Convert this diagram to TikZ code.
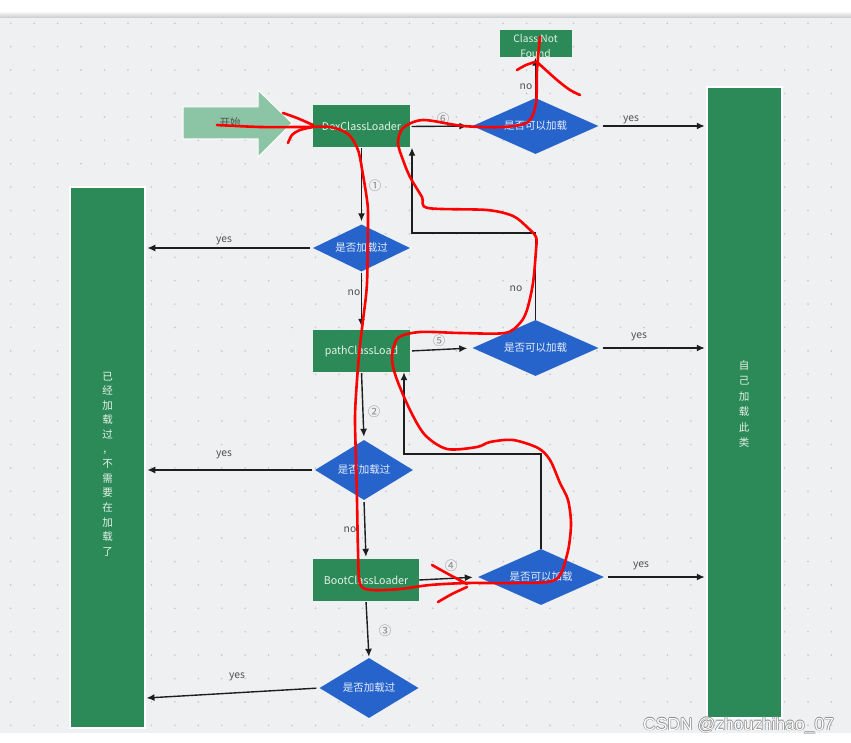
\documentclass[tikz,border=0pt]{standalone}
\usepackage{fontspec}
\setmainfont{Noto Sans CJK SC}
\newfontfamily\wmfont{Liberation Sans}
\usetikzlibrary{arrows.meta,shapes.geometric,calc}
\definecolor{bggrey}{HTML}{EEF0F2}
\definecolor{dotc}{HTML}{C4C7CB}
\definecolor{boxgreen}{HTML}{2C8A58}
\definecolor{boxtext}{HTML}{E4F1E8}
\definecolor{diablue}{HTML}{2664CB}
\definecolor{diatext}{HTML}{E6EDFA}
\definecolor{startgreen}{HTML}{8CC5A6}
\definecolor{arrowc}{HTML}{1E1E1E}
\definecolor{lblc}{HTML}{505050}
\definecolor{numc}{HTML}{8A8A8A}
\definecolor{wmgrey}{HTML}{8C8C8C}
\tikzset{
  box/.style={fill=boxgreen, text=boxtext, inner sep=0pt, font=\fontsize{10.7}{12}\selectfont},
  dia/.style={diamond, aspect=2.2, fill=diablue, text=diatext, inner sep=0pt, font=\fontsize{10.5}{12}\selectfont},
  bar/.style={fill=boxgreen, draw=white, line width=1.5pt, inner sep=0pt},
  bartext/.style={text=boxtext, align=center, inner sep=0pt},
  arr/.style={draw=arrowc, line width=1.4pt, -{Latex[length=8pt,width=7pt]}},
  lbl/.style={text=lblc, font=\fontsize{10.3}{12}\selectfont, inner sep=0pt},
  num/.style={text=numc, font=\fontsize{12.5}{14}\selectfont, inner sep=0pt},
  redline/.style={draw=red, line width=2.6pt, line cap=round, line join=round},
  wm/.style={font=\wmfont\fontsize{17.5}{20}\selectfont, inner sep=0pt, anchor=base west}
}
\begin{document}
\begin{tikzpicture}[x=1pt,y=-1pt]
\useasboundingbox (0,0) rectangle (851,743);
% background
\fill[white] (0,0) rectangle (851,743);
\fill[bggrey] (0,17) rectangle (851,733);
\shade[top color=white, bottom color=bggrey!85!black] (0,11) rectangle (851,17.5);
\foreach \i in {0,...,35}{
  \foreach \j in {0,...,30}{
    \fill[dotc] (10.7+23.45*\i, 23.3+23.4*\j) circle (0.9pt);
  }
}
% start arrow
\filldraw[fill=startgreen, draw=white, line width=1pt]
  (183,107) -- (258,107) -- (258,90) -- (292,123) -- (258,157) -- (258,139) -- (183,139) -- cycle;
\node[text=lblc, font=\fontsize{10.5}{12}\selectfont, inner sep=0pt] (start) at (230,123) {开始};
% bars
\node[bar, minimum width=75pt, minimum height=541pt] (lbar) at (107.5,457.5) {};
\node[bartext, font=\fontsize{10.5}{14.6}\selectfont] (lbartext) at (107.5,464)
  {已\\经\\加\\载\\过\\，\\不\\需\\要\\在\\加\\载\\了};
\node[bar, minimum width=75pt, minimum height=631pt] (rbar) at (744.5,402.5) {};
\node[bartext, font=\fontsize{10.5}{15.4}\selectfont] (rbartext) at (744,404)
  {自\\己\\加\\载\\此\\类};
% boxes
\node[box, minimum width=97pt, minimum height=42pt] (dex) at (361.5,126.5) {DexClassLoader};
\node[box, minimum width=72pt, minimum height=27pt] (cnf) at (535.5,44) {};
\node[bartext, font=\fontsize{10.2}{15}\selectfont] (cnftext) at (535.5,46) {Class Not\\Found};
\node[box, minimum width=97pt, minimum height=42pt] (path) at (361.5,351) {pathClassLoad};
\node[box, minimum width=106pt, minimum height=42pt] (boot) at (366,580) {BootClassLoader};
% diamonds
\node[dia, minimum width=126pt, minimum height=56pt] (d1) at (535.5,126) {是否可以加载};
\node[dia, minimum width=97pt, minimum height=47pt] (d2) at (361.5,248) {是否加载过};
\node[dia, minimum width=126pt, minimum height=56pt] (d3) at (535.5,348) {是否可以加载};
\node[dia, minimum width=98pt, minimum height=60pt] (d4) at (364,470) {是否加载过};
\node[dia, minimum width=126pt, minimum height=56pt] (d5) at (541,577) {是否可以加载};
\node[dia, minimum width=99pt, minimum height=60pt] (d6) at (369,688) {是否加载过};
% helper coordinates
\coordinate (loop1) at (412,233);
\coordinate (loop2) at (404,454);
\coordinate (l6) at (146.5,698);
% connectors
\draw[arr, shorten <=1.5pt, shorten >=5pt] (dex.east) -- (d1.west);
\draw[arr] (d1.north) -- (cnf.south);
\draw[arr, shorten <=4pt, shorten >=1.5pt] (d1.east) -- (rbar.west |- d1.east);
\draw[arr, shorten >=3pt] (dex.south) -- (d2.north);
\draw[arr, shorten <=3pt, shorten >=1.5pt] (d2.west) -- (lbar.east |- d2.west);
\draw[arr, shorten <=1pt, shorten >=3pt] (d2.south) -- (path.north);
\draw[arr] (d3.north) |- (loop1) -- (loop1 |- dex.south);
\draw[arr, shorten <=2pt, shorten >=5pt] (path.east) -- (d3.west);
\draw[arr, shorten <=4pt, shorten >=1.5pt] (d3.east) -- (rbar.west |- d3.east);
\draw[arr, shorten <=1pt, shorten >=3pt] (path.south) -- (d4.north);
\draw[arr, shorten <=3pt, shorten >=1.5pt] (d4.west) -- (lbar.east |- d4.west);
\draw[arr, shorten <=2pt, shorten >=2pt] (d4.south) -- (boot.north);
\draw[arr] (d5.north) |- (loop2) -- (loop2 |- path.south);
\draw[arr, shorten <=0pt, shorten >=5pt] (boot.east) -- (d5.west);
\draw[arr, shorten <=4pt, shorten >=1.5pt] (d5.east) -- (rbar.west |- d5.east);
\draw[arr, shorten <=1pt, shorten >=1pt] (boot.south) -- (d6.north);
\draw[arr, shorten <=3pt] (d6.west) -- (l6);
% labels
\node[num] (n1) at (375,186) {①};
\node[num] (n2) at (374,412) {②};
\node[num] (n3) at (385,631) {③};
\node[num] (n4) at (451,566) {④};
\node[num] (n5) at (439,341) {⑤};
\node[num] (n6) at (443,119) {⑥};
\node[lbl] (y1) at (631,120) {yes};
\node[lbl] (y2) at (224,241) {yes};
\node[lbl] (y3) at (639,337) {yes};
\node[lbl] (y4) at (224,455) {yes};
\node[lbl] (y5) at (641,566) {yes};
\node[lbl] (y6) at (237,677) {yes};
\node[lbl] (no1) at (526,87) {no};
\node[lbl] (no2) at (354,293) {no};
\node[lbl] (no3) at (516,289) {no};
\node[lbl] (no4) at (350,530) {no};
% red freehand annotation
\draw[redline] plot[smooth, tension=0.5] coordinates {
 (217,125) (260,127) (300,127) (330,127) (348,134) (358,150) (363,175) (367,200)
 (368,217) (367,283) (363,320) (360,345) (357,380) (355,417) (356,460) (357,500)
 (358,550) (360,584) (372,590) (400,589) (430,585) (467,583) (513,583) (555,580)
 (567,555) (571,525) (568,500) (560,483) (550,460) (538,448) (513,440) (490,442)
 (477,447) (447,449) (425,435) (410,410) (396,377) (392,357) (398,338) (420,332)
 (460,333) (505,333) (520,323) (527,310) (533,283) (536,250) (536,237) (527,227)
 (513,216) (487,210) (428,208) (422,197) (410,177) (403,160) (398,143) (403,128)
 (423,120) (463,126) (503,127) (528,122) (536,103) (537,70) (540,37)};
\draw[redline] plot[smooth, tension=0.5] coordinates {(283,113) (297,118) (313,125)};
\draw[redline] plot[smooth, tension=0.5] coordinates {(288,143) (292,135) (300,130) (313,127)};
\draw[redline] plot[smooth, tension=0.5] coordinates {(432,565) (450,575) (467,584)};
\draw[redline] plot[smooth, tension=0.5] coordinates {(438,602) (452,594) (467,587)};
\draw[redline] plot[smooth, tension=0.5] coordinates {(517,70) (526,65) (535,62)};
\draw[redline] plot[smooth, tension=0.5] coordinates {(537,62) (557,80) (570,90) (580,95)};
% watermark
\foreach \dx/\dy [count=\k] in {-0.7/0,0.7/0,0/-0.7,0/0.7}{
  \node[wm, text=wmgrey] (wmo\k) at (643+\dx,730+\dy) {CSDN @zhouzhihao\_07};
}
\node[wm, text=white] (wm) at (643,730) {CSDN @zhouzhihao\_07};
\end{tikzpicture}
\end{document}
